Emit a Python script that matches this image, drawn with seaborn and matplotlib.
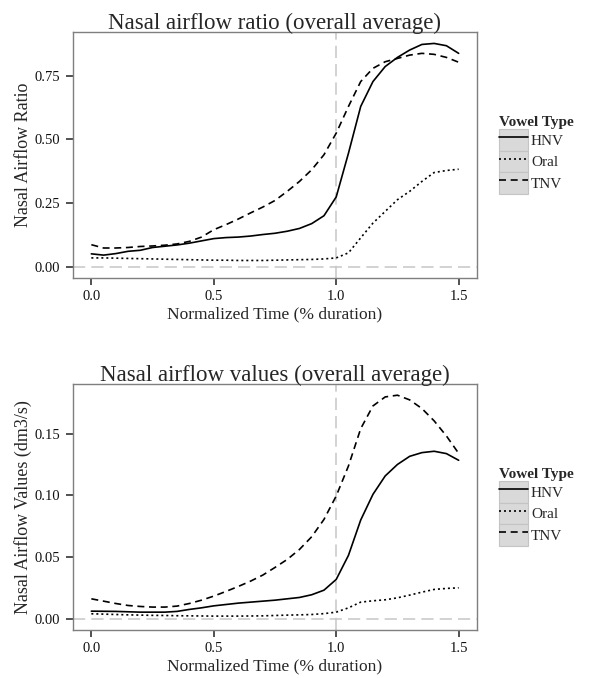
import pandas as pd
import matplotlib.pyplot as plt
import seaborn as sns
from matplotlib.lines import Line2D
from matplotlib.patches import Rectangle
from matplotlib.legend_handler import HandlerLine2D

# normalized time points (fraction of vowel duration)
TIME = [0.00, 0.05, 0.10, 0.15, 0.20, 0.25, 0.30, 0.35, 0.40, 0.45,
        0.50, 0.55, 0.60, 0.65, 0.70, 0.75, 0.80, 0.85, 0.90, 0.95,
        1.00, 1.05, 1.10, 1.15, 1.20, 1.25, 1.30, 1.35, 1.40, 1.45, 1.50]
VOWEL_TYPES = ["HNV", "Oral", "TNV"]

# nasal airflow ratio
RATIO_HNV = [0.050, 0.045, 0.051, 0.060, 0.064, 0.075, 0.080, 0.085, 0.092, 0.101,
             0.110, 0.114, 0.116, 0.120, 0.126, 0.131, 0.139, 0.150, 0.169, 0.200,
             0.274, 0.446, 0.630, 0.728, 0.787, 0.823, 0.852, 0.874, 0.878, 0.869, 0.839]
RATIO_ORAL = [0.034, 0.034, 0.033, 0.032, 0.031, 0.030, 0.029, 0.028, 0.027, 0.026,
              0.025, 0.025, 0.024, 0.024, 0.024, 0.025, 0.026, 0.027, 0.028, 0.030,
              0.034, 0.054, 0.113, 0.171, 0.217, 0.263, 0.296, 0.335, 0.370, 0.378, 0.383]
RATIO_TNV = [0.086, 0.073, 0.073, 0.075, 0.079, 0.081, 0.084, 0.089, 0.099, 0.116,
             0.145, 0.165, 0.187, 0.211, 0.234, 0.260, 0.296, 0.335, 0.381, 0.440,
             0.525, 0.630, 0.728, 0.780, 0.806, 0.819, 0.832, 0.839, 0.835, 0.823, 0.804]

# nasal airflow values (dm3/s)
FLOW_HNV = [0.0062, 0.0061, 0.0060, 0.0057, 0.0054, 0.0054, 0.0054, 0.0060, 0.0076, 0.0089,
            0.0105, 0.0116, 0.0127, 0.0135, 0.0143, 0.0151, 0.0162, 0.0173, 0.0195, 0.0232,
            0.0319, 0.0514, 0.0800, 0.1008, 0.1157, 0.1250, 0.1316, 0.1346, 0.1357, 0.1338, 0.1284]
FLOW_ORAL = [0.0041, 0.0038, 0.0035, 0.0032, 0.0030, 0.0028, 0.0027, 0.0025, 0.0024, 0.0023,
             0.0022, 0.0022, 0.0022, 0.0023, 0.0024, 0.0027, 0.0030, 0.0032, 0.0035, 0.0042,
             0.0054, 0.0089, 0.0135, 0.0146, 0.0154, 0.0170, 0.0192, 0.0216, 0.0238, 0.0246, 0.0251]
FLOW_TNV = [0.0162, 0.0143, 0.0124, 0.0108, 0.0100, 0.0095, 0.0095, 0.0103, 0.0124, 0.0151,
            0.0184, 0.0222, 0.0262, 0.0305, 0.0354, 0.0416, 0.0481, 0.0562, 0.0665, 0.0805,
            0.0995, 0.1238, 0.1540, 0.1724, 0.1797, 0.1811, 0.1773, 0.1703, 0.1603, 0.1481, 0.1340]

DASHES = {"HNV": "", "Oral": (1.2, 1.8), "TNV": (4.2, 2.8)}
LW = 1.2
SERIF = ["Liberation Serif", "DejaVu Serif"]


def to_long(hnv, oral, tnv):
    frames = []
    for name, vals in zip(VOWEL_TYPES, [hnv, oral, tnv]):
        frames.append(pd.DataFrame({"time": TIME, "value": vals, "Vowel Type": name}))
    return pd.concat(frames, ignore_index=True)


class KeyHandler(HandlerLine2D):
    # ggplot style key: grey box behind the line sample
    def create_artists(self, legend, orig_handle, xdescent, ydescent,
                       width, height, fontsize, trans):
        arts = super().create_artists(legend, orig_handle, xdescent, ydescent,
                                      width, height, fontsize, trans)
        box = Rectangle((-xdescent, -ydescent), width, height,
                        facecolor="#d9d9d9", edgecolor="#c4c4c4", lw=0.8,
                        transform=trans)
        return [box] + list(arts)


def draw_panel(ax, df, title, ylabel, yticks, yfmt):
    sns.lineplot(data=df, x="time", y="value", style="Vowel Type",
                 dashes=DASHES, color="black", lw=LW, legend=False, ax=ax)
    ax.axhline(0, color="#c6c6c6", lw=1.1, dashes=(8, 4), zorder=0)
    ax.axvline(1, color="#c6c6c6", lw=1.1, dashes=(8, 4), zorder=0)

    lo, hi = min(df["value"].min(), 0), df["value"].max()
    pad = (hi - lo) * 0.05
    ax.set_ylim(lo - pad, hi + pad)
    ax.set_xlim(-0.075, 1.575)
    ax.set_xticks([0.0, 0.5, 1.0, 1.5])
    ax.set_xticklabels(["0.0", "0.5", "1.0", "1.5"])
    ax.set_yticks(yticks)
    ax.set_yticklabels([yfmt.format(t) for t in yticks])

    ax.set_title(title, fontsize=16.5, family=SERIF, pad=2)
    ax.set_xlabel("Normalized Time (% duration)", fontsize=12.5, family=SERIF, labelpad=2)
    ax.set_ylabel(ylabel, fontsize=13, family=SERIF, labelpad=2)
    ax.tick_params(bottom=True, left=True, direction="out", length=5, width=1.1,
                   color="#222222", labelsize=10.5, pad=4, labelcolor="#111111")
    for lab in ax.get_xticklabels() + ax.get_yticklabels():
        lab.set_family(SERIF)
    for sp in ax.spines.values():
        sp.set_color("#7f7f7f")
        sp.set_linewidth(1.0)

    handles = [Line2D([], [], color="black", lw=LW,
                      dashes=DASHES[v] if DASHES[v] else (None, None),
                      linestyle="-" if not DASHES[v] else "--")
               for v in VOWEL_TYPES]
    leg = ax.legend(handles, VOWEL_TYPES, title="Vowel Type",
                    loc="center left", bbox_to_anchor=(1.054, 0.5),
                    frameon=False, fontsize=11, handlelength=1.9,
                    handleheight=1.8, handletextpad=0.2, labelspacing=0.0,
                    borderpad=0, borderaxespad=0, alignment="left",
                    handler_map={Line2D: KeyHandler()})
    leg.get_title().set_fontsize(11)
    leg.get_title().set_fontweight("bold")
    leg.get_title().set_family(SERIF)
    for t in leg.get_texts():
        t.set_family(SERIF)


sns.set_style("white")
fig = plt.figure(figsize=(5.9, 6.78), dpi=100)
ax1 = fig.add_axes([0.1237, 0.5904, 0.6848, 0.3620])
ax2 = fig.add_axes([0.1237, 0.0708, 0.6848, 0.3628])

draw_panel(ax1, to_long(RATIO_HNV, RATIO_ORAL, RATIO_TNV),
           "Nasal airflow ratio (overall average)", "Nasal Airflow Ratio",
           [0.0, 0.25, 0.5, 0.75], "{:.2f}")
draw_panel(ax2, to_long(FLOW_HNV, FLOW_ORAL, FLOW_TNV),
           "Nasal airflow values (overall average)", "Nasal Airflow Values (dm3/s)",
           [0.0, 0.05, 0.10, 0.15], "{:.2f}")

fig.savefig("out.png", dpi=100)
